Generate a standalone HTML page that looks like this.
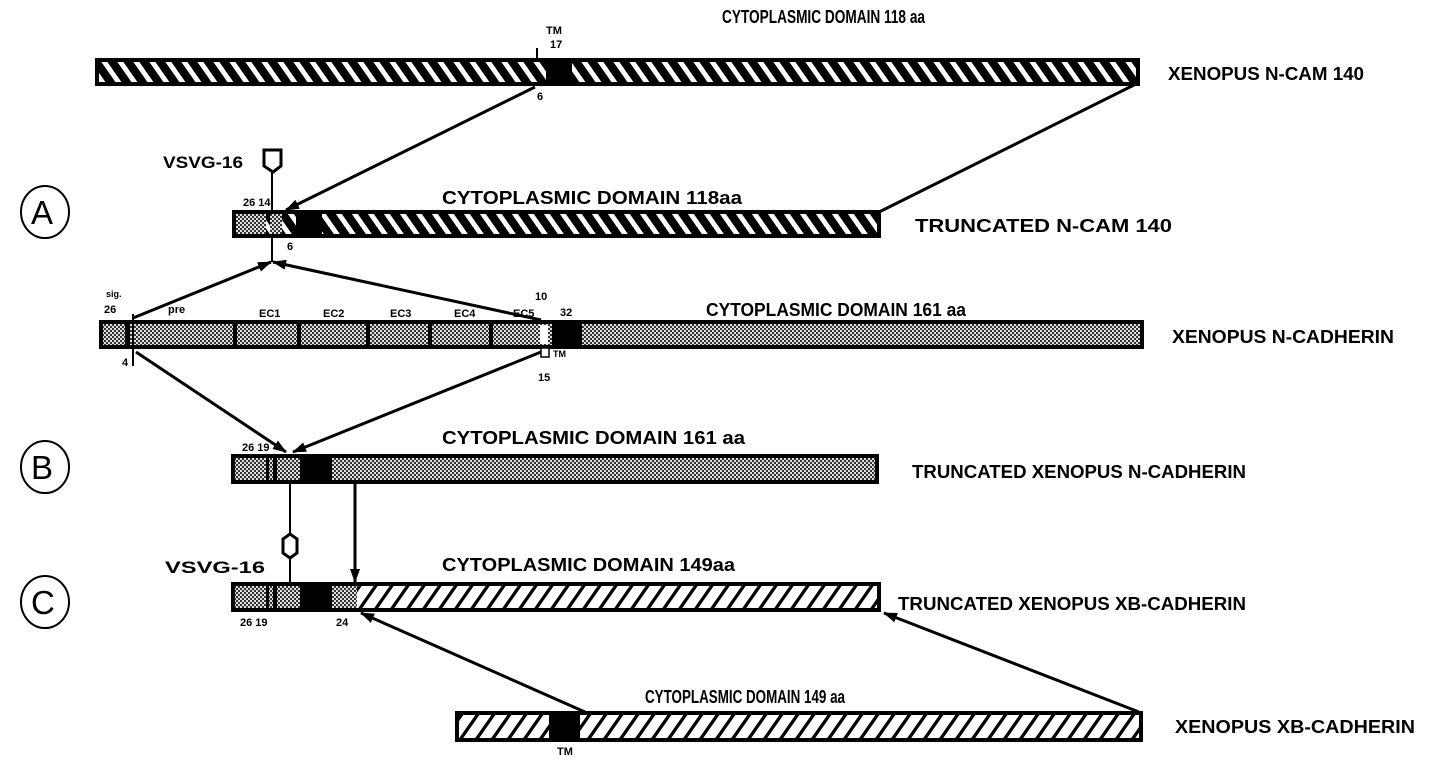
<!DOCTYPE html>
<html><head><meta charset="utf-8"><style>
html,body{margin:0;padding:0;background:#fff;}
svg{display:block;}
text{font-family:"Liberation Sans",sans-serif;font-weight:bold;fill:#000;}
.t{font-size:18px;}
.s{font-size:11px;}
</style></head><body>
<svg width="1431" height="780" viewBox="0 0 1431 780" xmlns="http://www.w3.org/2000/svg">
<defs>
<pattern id="bs" width="16" height="16" patternUnits="userSpaceOnUse" patternTransform="skewX(35)">
<rect width="16" height="16" fill="#fff"/><rect width="10" height="16" fill="#000"/>
</pattern>
<pattern id="fs" width="16" height="16" patternUnits="userSpaceOnUse" patternTransform="skewX(-35)">
<rect width="16" height="16" fill="#fff"/><rect width="4" height="16" fill="#000"/>
</pattern>
<pattern id="st" width="4" height="4" patternUnits="userSpaceOnUse">
<rect width="4" height="4" fill="#ddd"/><rect width="2" height="2" fill="#333"/><rect x="2" y="2" width="2" height="2" fill="#333"/>
</pattern>
<marker id="ah" markerWidth="14" markerHeight="10" refX="13" refY="5" orient="auto" markerUnits="userSpaceOnUse">
<path d="M0,0 L14,5 L0,10 z" fill="#000"/></marker>
</defs>

<!-- N-CAM 140 -->
<rect x="97" y="60" width="1041" height="24" fill="url(#bs)" stroke="#000" stroke-width="4"/>
<rect x="546" y="60" width="26" height="24" fill="#000"/>
<line x1="537" y1="48" x2="537" y2="62" stroke="#000" stroke-width="2"/>
<text class="s" x="546" y="34">TM</text><text class="s" x="550" y="48">17</text>
<text class="s" x="537" y="100">6</text>
<text class="t" x="722" y="23" textLength="203" lengthAdjust="spacingAndGlyphs">CYTOPLASMIC DOMAIN 118 aa</text>
<text class="t" x="1168" y="80" textLength="196" lengthAdjust="spacingAndGlyphs">XENOPUS N-CAM 140</text>

<line x1="535" y1="87" x2="286" y2="210" stroke="#000" stroke-width="3" marker-end="url(#ah)"/>
<line x1="1136" y1="84" x2="879" y2="212" stroke="#000" stroke-width="3"/>

<!-- A -->
<ellipse cx="45" cy="212" rx="24" ry="26" fill="none" stroke="#000" stroke-width="2"/>
<text x="31" y="224" style="font-size:33px;font-weight:normal">A</text>
<text style="font-size:17px" x="163" y="168" textLength="80" lengthAdjust="spacingAndGlyphs">VSVG-16</text>
<path d="M264,150 h17 v16 l-8,6 l-9,-6 z" fill="#fff" stroke="#000" stroke-width="3"/>
<line x1="272" y1="172" x2="272" y2="212" stroke="#000" stroke-width="2"/>
<rect x="234" y="212" width="645" height="24" fill="url(#bs)" stroke="#000" stroke-width="4"/>
<rect x="236" y="214" width="30" height="20" fill="url(#st)"/>
<rect x="270" y="214" width="12" height="20" fill="url(#st)"/>
<rect x="296" y="214" width="26" height="20" fill="#000"/>
<text class="s" x="243" y="206">26 14</text>
<text class="s" x="287" y="250">6</text>
<text class="t" x="442" y="204" textLength="300" lengthAdjust="spacingAndGlyphs">CYTOPLASMIC DOMAIN 118aa</text>
<text class="t" x="915" y="232" textLength="257" lengthAdjust="spacingAndGlyphs">TRUNCATED N-CAM 140</text>
<line x1="272" y1="236" x2="272" y2="262" stroke="#000" stroke-width="2"/>
<line x1="133" y1="318" x2="271" y2="262" stroke="#000" stroke-width="3" marker-end="url(#ah)"/>
<line x1="541" y1="320" x2="273" y2="262" stroke="#000" stroke-width="3" marker-end="url(#ah)"/>

<!-- N-cadherin -->
<rect x="101" y="322" width="1041" height="25" fill="url(#st)" stroke="#000" stroke-width="4"/>
<g fill="#000">
<rect x="125" y="322" width="5" height="25"/>
<rect x="233" y="322" width="4" height="25"/>
<rect x="297" y="322" width="4" height="25"/>
<rect x="366" y="322" width="4" height="25"/>
<rect x="428" y="322" width="4" height="25"/>
<rect x="489" y="322" width="4" height="25"/>
<rect x="552" y="322" width="30" height="25"/>
</g>
<rect x="540" y="325" width="8" height="19" fill="#fff"/>
<line x1="133" y1="314" x2="133" y2="366" stroke="#000" stroke-width="2"/>
<text class="s" x="106" y="297" style="font-size:9px">sig.</text>
<text class="s" x="104" y="313">26</text>
<text class="s" x="168" y="313">pre</text>
<text class="s" x="259" y="317">EC1</text><text class="s" x="323" y="317">EC2</text>
<text class="s" x="390" y="317">EC3</text><text class="s" x="454" y="317">EC4</text>
<text class="s" x="513" y="317">EC5</text>
<text class="s" x="535" y="300">10</text><text class="s" x="560" y="316">32</text>
<text class="s" x="122" y="366">4</text>
<rect x="541" y="348" width="8" height="9" fill="#fff" stroke="#000" stroke-width="1.5"/>
<text class="s" x="553" y="357" style="font-size:9px">TM</text>
<text class="s" x="538" y="381">15</text>
<text class="t" x="706" y="316" textLength="260" lengthAdjust="spacingAndGlyphs">CYTOPLASMIC DOMAIN 161 aa</text>
<text class="t" x="1172" y="343" textLength="222" lengthAdjust="spacingAndGlyphs">XENOPUS N-CADHERIN</text>
<line x1="136" y1="352" x2="286" y2="452" stroke="#000" stroke-width="3" marker-end="url(#ah)"/>
<line x1="541" y1="352" x2="293" y2="452" stroke="#000" stroke-width="3" marker-end="url(#ah)"/>

<!-- B -->
<ellipse cx="45" cy="467" rx="24" ry="26" fill="none" stroke="#000" stroke-width="2"/>
<text x="31" y="479" style="font-size:33px;font-weight:normal">B</text>
<rect x="233" y="456" width="644" height="26" fill="url(#st)" stroke="#000" stroke-width="4"/>
<rect x="266" y="456" width="3" height="26" fill="#000"/>
<rect x="273" y="456" width="4" height="26" fill="#000"/>
<rect x="300" y="456" width="32" height="26" fill="#000"/>
<text class="s" x="242" y="451">26 19</text>
<text class="t" x="442" y="444" textLength="303" lengthAdjust="spacingAndGlyphs">CYTOPLASMIC DOMAIN 161 aa</text>
<text class="t" x="912" y="478" textLength="334" lengthAdjust="spacingAndGlyphs">TRUNCATED XENOPUS N-CADHERIN</text>
<line x1="290" y1="482" x2="290" y2="584" stroke="#000" stroke-width="2"/>
<path d="M283,539 l7,-5 l7,5 v14 l-7,5 l-7,-5 z" fill="#fff" stroke="#000" stroke-width="3"/>
<text style="font-size:17px" x="165" y="573" textLength="100" lengthAdjust="spacingAndGlyphs">VSVG-16</text>
<line x1="355" y1="482" x2="355" y2="582" stroke="#000" stroke-width="3" marker-end="url(#ah)"/>

<!-- C -->
<ellipse cx="45" cy="602" rx="24" ry="26" fill="none" stroke="#000" stroke-width="2"/>
<text x="31" y="614" style="font-size:33px;font-weight:normal">C</text>
<rect x="233" y="584" width="646" height="26" fill="url(#fs)" stroke="#000" stroke-width="4"/>
<rect x="235" y="586" width="122" height="22" fill="url(#st)"/>
<rect x="266" y="584" width="3" height="26" fill="#000"/>
<rect x="273" y="584" width="4" height="26" fill="#000"/>
<rect x="300" y="584" width="32" height="26" fill="#000"/>
<text class="s" x="240" y="626">26  19</text>
<text class="s" x="336" y="626">24</text>
<text class="t" x="442" y="571" textLength="293" lengthAdjust="spacingAndGlyphs">CYTOPLASMIC DOMAIN 149aa</text>
<text class="t" x="898" y="610" textLength="348" lengthAdjust="spacingAndGlyphs">TRUNCATED XENOPUS XB-CADHERIN</text>
<line x1="585" y1="712" x2="361" y2="613" stroke="#000" stroke-width="3" marker-end="url(#ah)"/>
<line x1="1139" y1="712" x2="884" y2="613" stroke="#000" stroke-width="3" marker-end="url(#ah)"/>

<!-- XB-cadherin -->
<rect x="457" y="713" width="684" height="27" fill="url(#fs)" stroke="#000" stroke-width="4"/>
<rect x="549" y="713" width="31" height="27" fill="#000"/>
<text class="s" x="557" y="755">TM</text>
<text class="t" x="645" y="703" textLength="200" lengthAdjust="spacingAndGlyphs">CYTOPLASMIC DOMAIN 149 aa</text>
<text class="t" x="1175" y="733" textLength="240" lengthAdjust="spacingAndGlyphs">XENOPUS XB-CADHERIN</text>
</svg>
</body></html>
